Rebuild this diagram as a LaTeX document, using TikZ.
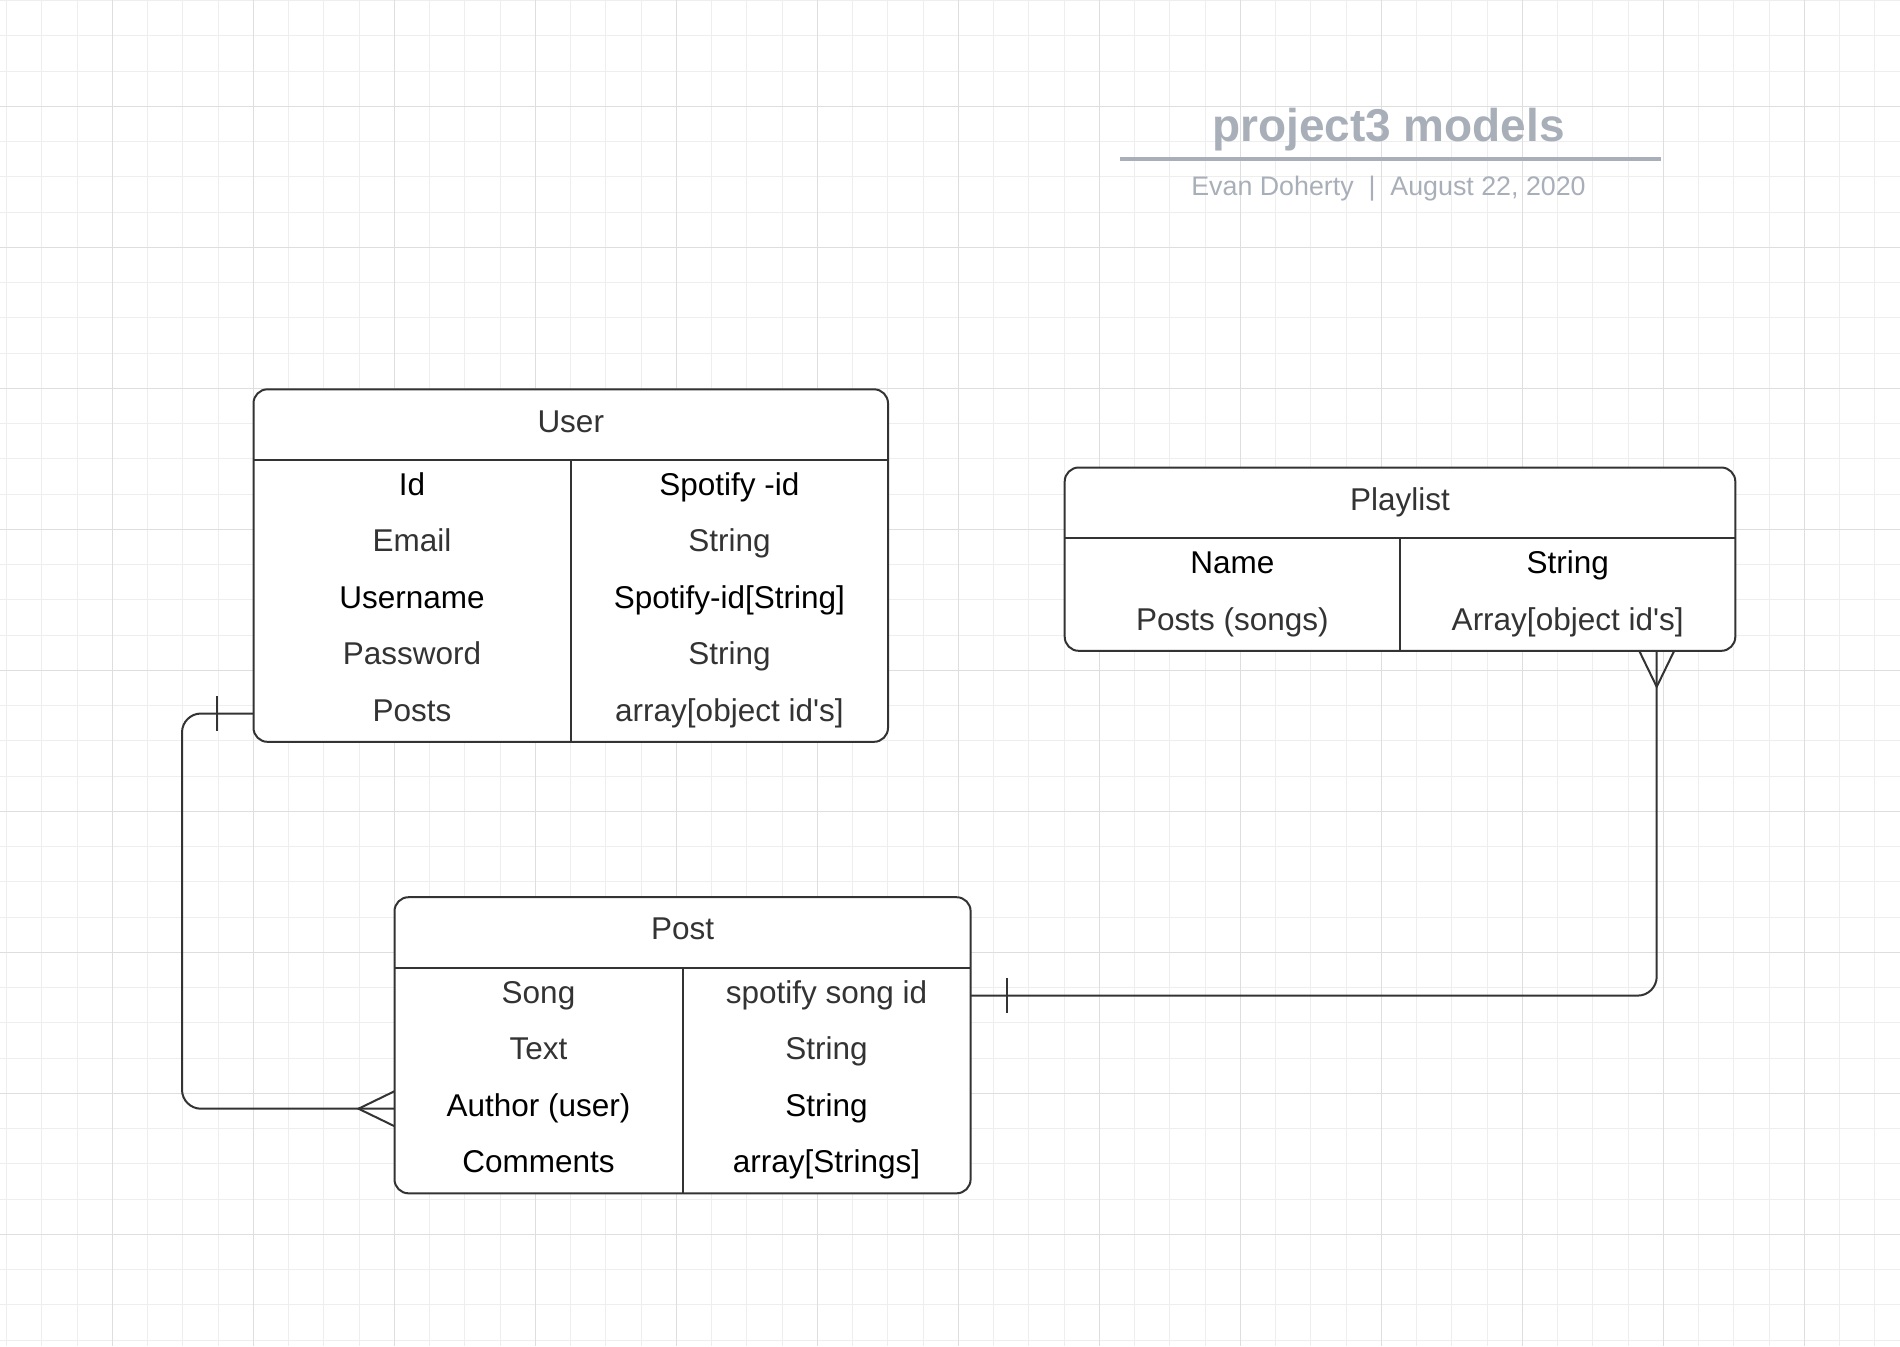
\documentclass[tikz,border=0pt]{standalone}
\usepackage{fontspec}
\setmainfont{Liberation Sans}
\usetikzlibrary{calc}
\definecolor{linecol}{HTML}{333333}
\definecolor{txtgray}{HTML}{333333}
\definecolor{titlecol}{HTML}{A9AFB9}
\definecolor{gridminor}{HTML}{EEEEEE}
\definecolor{gridmajor}{HTML}{DEDEDE}
\newcommand\tblfont{\fontsize{15.75}{18}\selectfont}
\begin{document}
\begin{tikzpicture}[x=0.5pt,y=-0.5pt,
  tbl/.style={draw=linecol, line width=1pt, rounded corners=7pt, fill=white, inner sep=0pt, outer sep=0pt},
  tline/.style={draw=linecol, line width=1pt},
  cell/.style={anchor=base, inner sep=0pt, font=\tblfont, text=txtgray, yshift=-0.75pt},
  cellb/.style={cell, text=black},
  conn/.style={draw=linecol, line width=1pt},
  minorline/.style={draw=gridminor, line width=0.5pt},
  majorline/.style={draw=gridmajor, line width=0.75pt}
]
\useasboundingbox (0,0) rectangle (1900,1346);
\fill[white] (0,0) rectangle (1900,1346);
% grid
\foreach \k in {0,...,53} {\draw[minorline] ({6.55+35.25*\k},0) -- ({6.55+35.25*\k},1346);}
\foreach \k in {0,...,38} {\draw[minorline] (0,{0.55+35.25*\k}) -- (1900,{0.55+35.25*\k});}
\foreach \k in {0,...,12} {\draw[majorline] ({112.3+141*\k},0) -- ({112.3+141*\k},1346);}
\foreach \k in {0,...,8} {\draw[majorline] (0,{106.3+141*\k}) -- (1900,{106.3+141*\k});}

% title
\node[anchor=base, inner sep=0pt, font=\fontsize{23}{26}\selectfont\bfseries, text=titlecol] (title) at (1388.5,141.7) {project3 models};
\coordinate (ulA) at (1120,159.3);
\coordinate (ulB) at (1661,159.3);
\draw[draw=titlecol, line width=2pt] (ulA) -- (ulB);
\node[anchor=base, inner sep=0pt, font=\fontsize{13.4}{16}\selectfont, text=titlecol] (subtitle) at (1388.5,195) {Evan Doherty\ \ |\ \ August 22, 2020};

% User table
\node[tbl, minimum width=317.25pt, minimum height=176.25pt] (user) at (570.75,565.55) {};
\draw[tline] ([yshift=-35.25pt]user.north west) -- ([yshift=-35.25pt]user.north east);
\draw[tline] ([yshift=-35.25pt]user.north) -- (user.south);
\node[cell] (userh) at (570.75,430.5) {User};
\node[cellb] (uid) at (412.1,493.9) {Id};
\node[cellb] (uidt) at (729.4,493.9) {Spotify -id};
\node[cell] (uemail) at (412.1,550.3) {Email};
\node[cell] (uemailt) at (729.4,550.3) {String};
\node[cellb] (uname) at (412.1,606.7) {Username};
\node[cellb] (unamet) at (729.4,606.7) {Spotify-id[String]};
\node[cell] (upass) at (412.1,663.1) {Password};
\node[cell] (upasst) at (729.4,663.1) {String};
\node[cell] (uposts) at (412.1,719.5) {Posts};
\node[cell] (upostst) at (729.4,719.5) {array[object id\textquotesingle s]};
\coordinate (upostsrow) at (412.1,713.5);

% Playlist table
\node[tbl, minimum width=335.3pt, minimum height=91.65pt] (playlist) at (1400,559.15) {};
\draw[tline] ([yshift=-35.25pt]playlist.north west) -- ([yshift=-35.25pt]playlist.north east);
\draw[tline] ([yshift=-35.25pt]playlist.north) -- (playlist.south);
\node[cell] (playlisth) at (1400,508.75) {Playlist};
\node[cellb] (plname) at (1232.35,572.2) {Name};
\node[cellb] (plnamet) at (1567.65,572.2) {String};
\node[cell] (plposts) at (1232.35,628.6) {Posts (songs)};
\node[cell] (plpostst) at (1567.65,628.6) {Array[object id\textquotesingle s]};

% Post table
\node[tbl, minimum width=288.05pt, minimum height=148.05pt] (post) at (682.55,1045.25) {};
\draw[tline] ([yshift=-35.25pt]post.north west) -- ([yshift=-35.25pt]post.north east);
\draw[tline] ([yshift=-35.25pt]post.north) -- (post.south);
\node[cell] (posth) at (682.55,938.45) {Post};
\node[cell] (psong) at (538.5,1001.9) {Song};
\node[cell] (psongt) at (826.6,1001.9) {spotify song id};
\node[cell] (ptext) at (538.5,1058.3) {Text};
\node[cell] (ptextt) at (826.6,1058.3) {String};
\node[cellb] (pauthor) at (538.5,1114.7) {Author (user)};
\node[cellb] (pauthort) at (826.6,1114.7) {String};
\node[cellb] (pcomm) at (538.5,1171.1) {Comments};
\node[cellb] (pcommt) at (826.6,1171.1) {array[Strings]};
\coordinate (psongrow) at (538.5,995.6);
\coordinate (pauthorrow) at (538.5,1108.7);

% connector User -- Post
\coordinate (leftbend) at (182,900);
\draw[conn, rounded corners=9.5pt] (user.west |- upostsrow) -| (leftbend) |- (post.west |- pauthorrow);
\draw[conn] ($(user.west |- upostsrow)+(-36.2,-17.5)$) -- ($(user.west |- upostsrow)+(-36.2,17.5)$);
\draw[conn] ($(post.west |- pauthorrow)+(0,-17.5)$) -- ($(post.west |- pauthorrow)+(-36,0)$) -- ($(post.west |- pauthorrow)+(0,17.5)$);

% connector Post -- Playlist
\coordinate (pfoot) at ($(playlist.south east)+(-78.6,0)$);
\draw[conn, rounded corners=9.5pt] (post.east |- psongrow) -| (pfoot);
\draw[conn] ($(post.east |- psongrow)+(36.7,-17.5)$) -- ($(post.east |- psongrow)+(36.7,17.5)$);
\draw[conn] ($(pfoot)+(-17.5,0)$) -- ($(pfoot)+(0,36)$) -- ($(pfoot)+(17.5,0)$);
\end{tikzpicture}
\end{document}
